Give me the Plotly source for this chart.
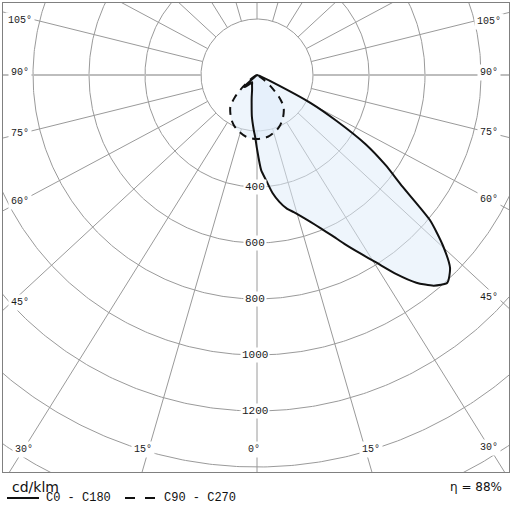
import numpy as np
import plotly.graph_objects as go

# ---------------- data ----------------
# C0 half-plane (drawn to the right), gamma in degrees from nadir, intensity in cd/klm
GAMMA_C0 = [0, 2.5, 5, 7.5, 10, 12.5, 15, 17.5, 20, 22.5, 25, 27.5, 30, 32.5, 35,
            37.5, 40, 42.5, 45, 47.5, 50, 52.5, 55, 57.5, 60, 62.5, 65, 67.5, 70, 80, 90]
I_C0 = [264, 340, 378, 425, 460, 488, 507, 530, 558, 592, 632, 682, 735, 795, 868,
        935, 982, 1006, 975, 900, 806, 655, 560, 460, 330, 215, 70, 20, 8, 2, 0]
# C180 half-plane (drawn to the left)
GAMMA_C180 = [0, 1.5, 3.5, 7, 10, 13.5, 18, 22, 27, 34, 38, 42, 46, 48, 50, 60, 90]
I_C180 = [264, 225, 195, 150, 110, 81, 57, 47, 39, 31, 38, 50, 63, 55, 8, 0, 0]
# C90 / C270 plane (symmetric)
GAMMA_C90 = [0, 10, 20, 25, 30, 35, 40, 45, 50, 55, 60, 70, 90]
I_C90 = [229, 224, 208, 197, 183, 166, 148, 112, 65, 30, 10, 2, 0]

GRID_RADII = [200, 400, 600, 800, 1000, 1200, 1400, 1600]
RADIAL_LABELS = [400, 600, 800, 1000, 1200]
GRID_ANGLES = list(range(0, 360, 15))
ANGLE_LABELS = [0, 15, 30, 45, 60, 75, 90, 105]
UNIT = "cd/klm"
LEGEND_NAMES = ["C0 - C180", "C90 - C270"]
ETA = 88

# ---------------- layout constants ----------------
W, H = 512, 512
ML, MR, MT, MB = 3, 3, 3, 40
CX, CY = 257, 75          # pixel position of the diagram centre
SCALE = 0.28              # pixels per cd/klm
K = 1.08                  # horizontal stretch of the angle rays (as in the source)
GRID = "#9a9a9a"
FONT_NUM = "Liberation Mono"
# small pixel nudges of the angle labels: (outward, down)
LABEL_NUDGE = {15: (6, 0), 45: (0, 8), 90: (0, -3), 105: (0, 4)}

x0 = -(CX - ML) / SCALE
x1 = (W - MR - CX) / SCALE
y1 = (CY - MT) / SCALE
y0 = -(H - MB - CY) / SCALE


def pol(gamma_deg, inten, side):
    g = np.radians(np.asarray(gamma_deg, float))
    r = np.asarray(inten, float)
    return side * r * np.sin(g), -r * np.cos(g)


fig = go.Figure()

# ---- C0-C180 closed curve ----
xa, ya = pol(GAMMA_C180[::-1], I_C180[::-1], -1)
xb, yb = pol(GAMMA_C0, I_C0, 1)
xs = np.concatenate([xa, xb[1:]])
ys = np.concatenate([ya, yb[1:]])
# ---- C90-C270 closed curve ----
xc, yc = pol(GAMMA_C90[::-1], I_C90[::-1], -1)
xd, yd = pol(GAMMA_C90, I_C90, 1)
xs2 = np.concatenate([xc, xd[1:]])
ys2 = np.concatenate([yc, yd[1:]])

# ---- grid circles ----
t = np.linspace(0, 2 * np.pi, 721)
cx_all, cy_all = [], []
for r in GRID_RADII:
    cx_all += list(r * np.cos(t)) + [None]
    cy_all += list(r * np.sin(t)) + [None]
fig.add_trace(go.Scatter(x=cx_all, y=cy_all, mode="lines",
                         line=dict(color=GRID, width=1), hoverinfo="skip"))

# ---- radial rays ----
def ray_dir(a):
    a = np.radians(a)
    v = np.array([K * np.sin(a), -np.cos(a)])
    return v / np.hypot(*v)

rx, ry, hx, hy = [], [], [], []
for a in GRID_ANGLES:
    u = ray_dir(a)
    p0 = GRID_RADII[0] * u
    p1 = 4000 * u
    if a % 180 == 90:
        hx += [p0[0], p1[0], None]
        hy += [p0[1], p1[1], None]
    else:
        rx += [p0[0], p1[0], None]
        ry += [p0[1], p1[1], None]
fig.add_trace(go.Scatter(x=rx, y=ry, mode="lines",
                         line=dict(color=GRID, width=1), hoverinfo="skip"))
fig.add_trace(go.Scatter(x=hx, y=hy, mode="lines",
                         line=dict(color="#bdbdbd", width=2.2), hoverinfo="skip"))

# ---- fills (semi-transparent, over the grid) ----
FILL = "rgba(222,235,249,0.5)"
fig.add_trace(go.Scatter(x=xs2, y=ys2, mode="lines", fill="toself", fillcolor=FILL,
                         line=dict(width=0, shape="spline", smoothing=0.7), hoverinfo="skip"))
fig.add_trace(go.Scatter(x=xs, y=ys, mode="lines", fill="toself", fillcolor=FILL,
                         line=dict(width=0, shape="spline", smoothing=0.6), hoverinfo="skip"))

# ---- curves ----
fig.add_trace(go.Scatter(x=xs2, y=ys2, mode="lines",
                         line=dict(color="#111", width=2, dash="8px,6px",
                                   shape="spline", smoothing=0.7), hoverinfo="skip"))
fig.add_trace(go.Scatter(x=xs, y=ys, mode="lines",
                         line=dict(color="#111", width=2, shape="spline", smoothing=0.6),
                         hoverinfo="skip"))

ann = []
# radial value labels
for v in RADIAL_LABELS:
    ann.append(dict(x=0, y=-v, xref="x", yref="y", text=str(v), showarrow=False,
                    font=dict(family=FONT_NUM, size=11, color="#1a1a1a"),
                    bgcolor="white", borderpad=1, xshift=-2))

# angle labels on an inset frame
xl = -(CX - 20) / SCALE
xr = (489 - CX) / SCALE
yb_ = -(449 - CY) / SCALE
for a in ANGLE_LABELS:
    for side in ([1] if a == 0 else [-1, 1]):
        u = ray_dir(a)
        u = np.array([u[0] * side, u[1]])
        cand = []
        if u[0] < -1e-9:
            cand.append(xl / u[0])
        if u[0] > 1e-9:
            cand.append(xr / u[0])
        if u[1] < -1e-9:
            cand.append(yb_ / u[1])
        tt = min(cand)
        px, py = tt * u
        nx, ny = LABEL_NUDGE.get(a, (0, 0))
        ann.append(dict(x=px, y=py, xref="x", yref="y", text=f"{a}°", showarrow=False,
                        font=dict(family=FONT_NUM, size=10, color="#1a1a1a"),
                        bgcolor="white", borderpad=2,
                        xshift=(-3 if a == 0 else side * nx), yshift=-ny))


def xp(px):
    return (px - ML) / (W - ML - MR)


def yp(py):
    return (H - MB - py) / (H - MT - MB)


ann += [
    dict(x=xp(10), y=yp(487), xref="paper", yref="paper", text=UNIT, showarrow=False,
         xanchor="left", yanchor="middle", font=dict(family="DejaVu Sans", size=14, color="#111")),
    dict(x=xp(44), y=yp(498), xref="paper", yref="paper", text=LEGEND_NAMES[0], showarrow=False,
         xanchor="left", yanchor="middle", font=dict(family=FONT_NUM, size=12, color="#111")),
    dict(x=xp(162), y=yp(498), xref="paper", yref="paper", text=LEGEND_NAMES[1], showarrow=False,
         xanchor="left", yanchor="middle", font=dict(family=FONT_NUM, size=12, color="#111")),
    dict(x=xp(504), y=yp(487), xref="paper", yref="paper", text=f"η = {ETA}%", showarrow=False,
         xanchor="right", yanchor="middle", font=dict(family="DejaVu Sans", size=12, color="#111")),
]

shapes = [
    dict(type="line", xref="paper", yref="paper", x0=xp(7), x1=xp(39), y0=yp(498), y1=yp(498),
         line=dict(color="#111", width=2)),
    dict(type="line", xref="paper", yref="paper", x0=xp(125), x1=xp(156), y0=yp(498), y1=yp(498),
         line=dict(color="#111", width=2, dash="10px,10px")),
]

fig.update_layout(
    width=W, height=H, margin=dict(l=ML, r=MR, t=MT, b=MB),
    paper_bgcolor="white", plot_bgcolor="white", showlegend=False,
    annotations=ann, shapes=shapes,
    xaxis=dict(range=[x0, x1], showgrid=False, zeroline=False, showticklabels=False,
               showline=True, mirror=True, linecolor="#808080", linewidth=1, ticks="",
               fixedrange=True),
    yaxis=dict(range=[y0, y1], showgrid=False, zeroline=False, showticklabels=False,
               showline=True, mirror=True, linecolor="#808080", linewidth=1, ticks="",
               fixedrange=True),
)

fig.write_html("out.html", config={"displayModeBar": False},
               post_script="document.body.style.margin='0';document.body.style.overflow='hidden';")
